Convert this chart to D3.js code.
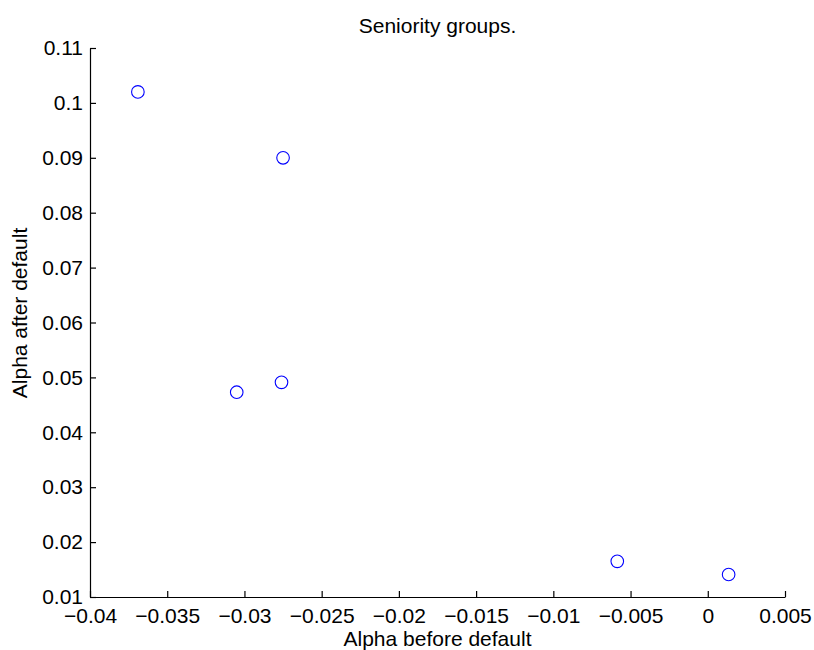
<!DOCTYPE html>
<html>
<head>
<meta charset="utf-8">
<script src="https://cdn.jsdelivr.net/npm/d3@7"></script>
<style>
  body { margin: 0; background: #fff; }
  text { font-family: "Liberation Sans", Arial, sans-serif; fill: #000; }
</style>
</head>
<body>
<div id="chart"></div>
<script>
// data
var alphaBefore = [-0.0369, -0.0275, -0.0305, -0.0276, -0.00586, 0.00135];
var alphaAfter  = [0.1020, 0.0900, 0.0473, 0.0491, 0.0165, 0.0141];
var xTicks = [-0.04, -0.035, -0.03, -0.025, -0.02, -0.015, -0.01, -0.005, 0, 0.005];
var yTicks = [0.01, 0.02, 0.03, 0.04, 0.05, 0.06, 0.07, 0.08, 0.09, 0.1, 0.11];

var svgWidth = 814, svgHeight = 650;
var margin = { top: 48, right: 29, bottom: 53, left: 90 };
var width = svgWidth - margin.left - margin.right;
var height = svgHeight - margin.top - margin.bottom;

var svg = d3.select("#chart").append("svg")
  .attr("width", svgWidth)
  .attr("height", svgHeight);

var g = svg.append("g")
  .attr("transform", `translate(${margin.left}, ${margin.top})`);

var x = d3.scaleLinear().domain([-0.04, 0.005]).range([0, width]);
var y = d3.scaleLinear().domain([0.01, 0.11]).range([height, 0]);

var fmt = d3.format("~g");

// x axis, ticks pointing inward
var xAxis = g.append("g")
  .attr("transform", `translate(0, ${height})`)
  .call(d3.axisBottom(x).tickValues(xTicks).tickFormat(fmt).tickSizeInner(-6).tickSizeOuter(0).tickPadding(0));

var yAxis = g.append("g")
  .call(d3.axisLeft(y).tickValues(yTicks).tickFormat(fmt).tickSizeInner(-6).tickSizeOuter(0).tickPadding(7));

[xAxis, yAxis].forEach(function(a) {
  a.select(".domain").attr("stroke", "#000").attr("stroke-width", 1.2);
  a.selectAll(".tick line").attr("stroke", "#000").attr("stroke-width", 1.2);
  a.selectAll(".tick text").style("font-size", "21px").attr("fill", "#000");
});
xAxis.selectAll(".tick text").attr("y", 26).attr("dy", null);

// points
g.selectAll("circle")
  .data(alphaBefore.map(function(v, i) { return { x: v, y: alphaAfter[i] }; }))
  .enter()
  .append("circle")
  .attr("cx", d => x(d.x))
  .attr("cy", d => y(d.y))
  .attr("r", 6.3)
  .attr("fill", "none")
  .attr("stroke", "#0000ff")
  .attr("stroke-width", 1.1);

// labels
svg.append("text")
  .attr("x", margin.left + width / 2)
  .attr("y", 33)
  .attr("text-anchor", "middle")
  .style("font-size", "21px")
  .text("Seniority groups.");

svg.append("text")
  .attr("x", margin.left + width / 2)
  .attr("y", 646)
  .attr("text-anchor", "middle")
  .style("font-size", "21px")
  .text("Alpha before default");

svg.append("text")
  .attr("transform", `translate(27, 313) rotate(-90)`)
  .attr("text-anchor", "middle")
  .style("font-size", "21px")
  .text("Alpha after default");
</script>
</body>
</html>
